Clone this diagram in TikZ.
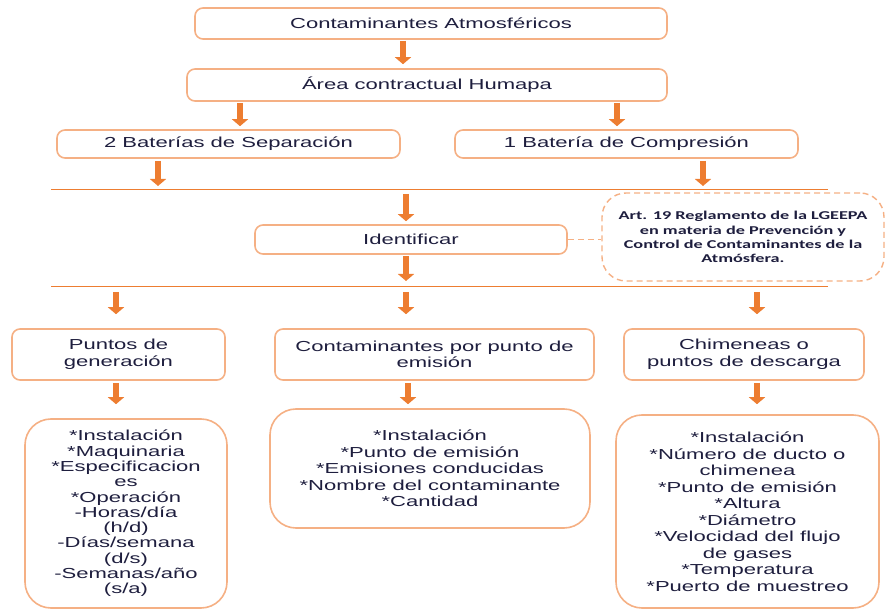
\documentclass[tikz,border=0pt]{standalone}
\usepackage{fontspec}
\setmainfont{Liberation Sans}[FakeStretch=1.52]
\newfontfamily\notafont{Carlito}[FakeStretch=1.52]
\usetikzlibrary{arrows.meta}
\definecolor{naranja}{RGB}{237,125,49}
\definecolor{borde}{RGB}{245,176,132}
\definecolor{texto}{RGB}{30,30,62}
\tikzset{>=latex}

\begin{document}
\begin{tikzpicture}[x=1pt, y=-1pt,
    caja/.style={draw=borde, line width=1.6pt, rounded corners=8pt, text=texto,
      font=\fontsize{14.5}{16.5}\selectfont, align=center, inner sep=0pt},
    cajagrande/.style={caja, rounded corners=26pt},
    nota/.style={draw=borde, line width=1.4pt, dash pattern=on 6pt off 4pt,
      rounded corners=24pt, text=texto, align=center, inner sep=0pt,
      font=\notafont\bfseries\fontsize{12}{14.3}\selectfont},
    flecha/.style={draw=naranja, line width=6pt, -{Triangle[width=16pt,length=7pt]}},
    raya/.style={draw=naranja, line width=1pt}]
  \useasboundingbox (0,0) rectangle (887,609);

  % cajas de arriba
  \node[caja, minimum width=472pt, minimum height=31pt] (atm) at (431,23.5) {Contaminantes Atmosféricos};
  \node[caja, minimum width=480pt, minimum height=32pt] (area) at (427,85) {Área contractual Humapa};
  \node[caja, minimum width=343pt, minimum height=28pt] (sep) at (228.5,144) {2 Baterías de Separación};
  \node[caja, minimum width=343pt, minimum height=28pt] (comp) at (626.5,144) {1 Batería de Compresión};

  % rayas
  \coordinate (r1a) at (51,190);
  \coordinate (r1b) at (828,190);
  \coordinate (r2a) at (51,287);
  \coordinate (r2b) at (828,287);
  \draw[raya] (r1a) -- (r1b);
  \draw[raya] (r2a) -- (r2b);

  \node[caja, minimum width=312pt, minimum height=29pt] (ident) at (411,239.5) {Identificar};
  \node[nota, minimum width=282pt, minimum height=88pt] (ley) at (743,237)
    {Art. 19 Reglamento de la LGEEPA\\en materia de Prevención y\\Control de Contaminantes de la\\Atmósfera.};

  % tercer nivel
  \node[caja, minimum width=213pt, minimum height=51pt] (gen) at (118.5,354.5) {Puntos de\\generación};
  \node[caja, minimum width=319pt, minimum height=51pt] (emi) at (434.5,354.5) {Contaminantes por punto de\\emisión};
  \node[caja, minimum width=240pt, minimum height=51pt] (chim) at (744,354.5) {Chimeneas o\\puntos de descarga};

  % listas
  \node[cajagrande, minimum width=202pt, minimum height=189pt, font=\fontsize{14.5}{15.3}\selectfont] (lgen) at (126,513.5)
    {*Instalación\\*Maquinaria\\*Especificacion\\es\\*Operación\\-Horas/día\\(h/d)\\-Días/semana\\(d/s)\\-Semanas/año\\(s/a)};
  \node[cajagrande, minimum width=320pt, minimum height=119pt] (lemi) at (430,468.5)
    {*Instalación\\*Punto de emisión\\*Emisiones conducidas\\*Nombre del contaminante\\*Cantidad};
  \node[cajagrande, minimum width=263pt, minimum height=193pt] (lchim) at (747.5,511.5)
    {*Instalación\\*Número de ducto o\\chimenea\\*Punto de emisión\\*Altura\\*Diámetro\\*Velocidad del flujo\\de gases\\*Temperatura\\*Puerto de muestreo};

  % columnas de las flechas
  \coordinate (f1) at (403,0);
  \coordinate (fa) at (240,0);
  \coordinate (fb) at (617,0);
  \coordinate (fc) at (158,0);
  \coordinate (fd) at (703,0);
  \coordinate (fe) at (406,0);
  \coordinate (g1) at (116,0);
  \coordinate (g2) at (406,0);
  \coordinate (g3) at (757,0);
  \coordinate (h2) at (408,0);

  \draw[flecha, shorten <=1pt, shorten >=4pt] (atm.south -| f1) -- (area.north -| f1);
  \draw[flecha, shorten <=1pt, shorten >=3pt] (area.south -| fa) -- (sep.north -| fa);
  \draw[flecha, shorten <=1pt, shorten >=3pt] (area.south -| fb) -- (comp.north -| fb);
  \draw[flecha, shorten <=2pt, shorten >=4pt] (sep.south -| fc) -- (r1a -| fc);
  \draw[flecha, shorten <=2pt, shorten >=4pt] (comp.south -| fd) -- (r1a -| fd);
  \draw[flecha, shorten <=4pt, shorten >=3pt] (r1a -| fe) -- (ident.north -| fe);
  \draw[flecha, shorten <=1pt, shorten >=6pt] (ident.south -| fe) -- (r2a -| fe);
  \draw[flecha, shorten <=5pt, shorten >=14pt] (r2a -| g1) -- (gen.north -| g1);
  \draw[flecha, shorten <=5pt, shorten >=14pt] (r2a -| g2) -- (emi.north -| g2);
  \draw[flecha, shorten <=5pt, shorten >=14pt] (r2a -| g3) -- (chim.north -| g3);
  \draw[flecha, shorten <=2pt, shorten >=14pt] (gen.south -| g1) -- (lgen.north -| g1);
  \draw[flecha, shorten <=2pt, shorten >=4pt] (emi.south -| h2) -- (lemi.north -| h2);
  \draw[flecha, shorten <=2pt, shorten >=10pt] (chim.south -| g3) -- (lchim.north -| g3);

  \draw[draw=borde, line width=1.4pt, dash pattern=on 6pt off 4pt] (ident.east) -- (ident.east -| ley.west);
\end{tikzpicture}
\end{document}
